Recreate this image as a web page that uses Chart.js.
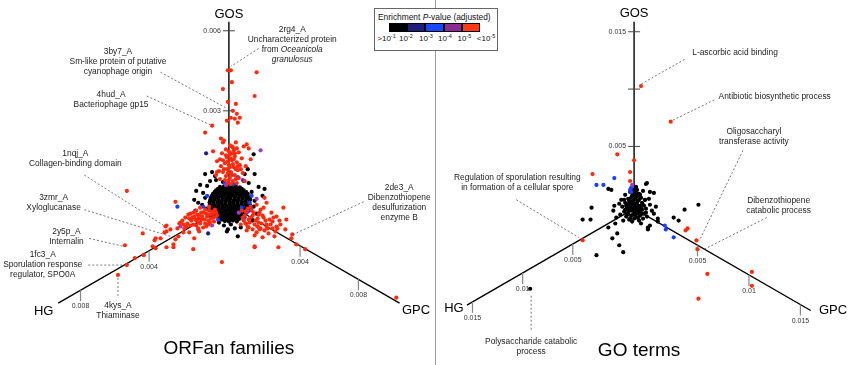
<!DOCTYPE html>
<html>
<head>
<meta charset="utf-8">
<script src="https://cdn.jsdelivr.net/npm/chart.js@4.4.1/dist/chart.umd.min.js"></script>
<style>
  html, body { margin: 0; padding: 0; background: #fff; }
  body { width: 851px; height: 365px; position: relative; overflow: hidden; font-family: "Liberation Sans", Arial, Helvetica, sans-serif; }
  canvas { position: absolute; top: 0; }
  #orfCanvas { left: 0; }
  #goCanvas { left: 435px; }
  #divider { position: absolute; left: 435px; top: 0; width: 1px; height: 365px; background: #9a9a9a; }
  #legend { position: absolute; left: 374px; top: 8px; width: 124px; height: 43px; box-sizing: border-box; border: 1px solid #666; background: #fff; }
  #legend .title { position: absolute; left: 3px; top: 3px; font-size: 8.4px; color: #111; white-space: nowrap; }
  #swatches { position: absolute; left: 14px; top: 14px; display: flex; }
  #swatches span { width: 18.2px; height: 9px; box-sizing: border-box; border: 1px solid #000; }
  #legLabels span { position: absolute; top: 25px; font-size: 8px; color: #111; transform: translateX(-50%); white-space: nowrap; line-height: 10px; }
  #legLabels sup { font-size: 5.5px; vertical-align: 3px; line-height: 0; }
</style>
</head>
<body>
<canvas id="orfCanvas" width="435" height="365"></canvas>
<canvas id="goCanvas" width="416" height="365"></canvas>
<div id="divider"></div>
<div id="legend">
  <div class="title">Enrichment <i>P</i>-value (adjusted)</div>
  <div id="swatches"></div>
  <div id="legLabels"></div>
</div>
<script>
// legend categories
const legendColors = ['#000000', '#1f1f7a', '#1747ff', '#8b2a94', '#ff3a14'];
const legendBase = ['>10', '10', '10', '10', '10', '<10'];
const legendExp = ['-1', '-2', '-3', '-4', '-5', '-5'];

// ORFan families: points in the projected plane (center = 0,0)
const orfRed = [
  [-0.1,13.6],[0.2,13.6],[2.8,13.4],[0.3,12.4],[-0.6,11.7],[2.6,11.0],[0.7,10.2],[-0.1,10.4],[0.4,9.5],[0.8,9.2],
  [0.2,8.8],[0.6,8.7],[1.1,8.8],[-0.2,8.5],[0.9,8.3],[-1.7,8.0],[-2.4,7.3],[-0.8,6.7],[-0.5,6.5],[0.7,6.3],
  [1.8,6.1],[2.0,5.7],[0.1,6.0],[0.4,5.8],[-0.6,6.3],
  [-0.3,5.6],[0.5,5.5],[1.0,5.3],[-0.7,5.2],[0.1,5.1],[0.6,4.9],[-0.2,4.8],[1.3,4.7],[-0.9,4.6],[0.3,4.5],
  [0.8,4.3],[-0.4,4.2],[0.0,4.0],[1.1,4.0],[-0.8,3.9],[0.5,3.8],[-0.2,3.6],[0.9,3.5],[0.2,3.3],[-0.6,3.3],
  [1.4,3.2],[0.6,3.0],[-0.3,2.9],[0.1,2.7],[1.0,2.7],[-0.9,2.6],[0.4,2.4],[-0.1,2.2],[0.8,2.2],[1.6,2.4],
  [-1.3,3.0],[1.7,3.9],[-1.2,4.4],[2.2,4.6],[-1.6,5.4],[1.5,5.9],[0.3,5.9],[-1.2,3.3],[0.2,4.7],[0.7,3.6],
  [0.0,5.4],[0.3,5.2],[-0.1,4.4],[0.4,4.1],[0.1,3.8],[-0.5,3.6],[0.3,3.0],[0.7,2.6],[-0.4,2.5],[0.2,2.1],
  [-0.6,4.5],[0.6,5.2],[-0.3,5.0],[0.9,3.9],[0.5,4.6],[-0.1,3.2],[0.0,2.5],[1.2,3.6],[-1.0,3.4],[0.8,5.7],
  [-10.3,1.4],[-5.4,0.3],[-6.4,-2.2],[-8.7,-2.9],[-10.5,-4.1],[-7.4,-3.4],[-6.5,-2.8],[-5.9,-2.5],[-4.6,-2.8],[-5.4,-3.5],
  [-5.6,-4.3],[-6.3,-4.3],[-7.7,-4.2],[-8.6,-5.1],[-9.5,-5.4],[-10.3,-6.1],[-11.2,-7.1],[-3.5,-3.4],[-4.0,-2.8],[-2.9,-1.8],
  [-4.4,-1.3],[-4.1,-1.0],[-6.9,-3.4],[-5.1,-3.2],[-6.3,-2.1],[-7.5,-3.6],[-6.3,-2.7],[-4.9,-1.8],[-5.6,-4.0],[-3.6,-4.5],
  [-7.4,-4.4],
  [-3.8,-1.6],[-3.5,-1.2],[-3.2,-1.7],[-3.0,-1.1],[-2.8,-1.5],[-2.6,-0.8],[-2.4,-1.9],[-2.2,-1.2],[-2.0,-0.6],[-1.8,-1.4],
  [-1.6,-0.9],[-1.4,-0.5],[-3.3,-0.6],[-2.9,-0.3],[-3.6,-2.0],[-4.2,-1.9],[-4.5,-2.4],[-2.6,-2.3],[-2.1,-2.0],[-1.5,-1.7],
  [-3.9,-0.9],[-4.7,-1.6],[-5.0,-1.9],[-3.1,-2.4],[-2.0,-0.2],[-1.2,-1.1],
  [-3.7,-1.3],[-3.4,-1.5],[-3.1,-1.4],[-2.7,-1.2],[-2.5,-1.5],[-2.3,-0.9],[-2.1,-1.6],[-1.9,-1.0],[-1.7,-0.7],[-2.9,-1.9],
  [-3.3,-2.1],[-3.9,-2.1],[-4.3,-2.2],[-2.4,-0.5],[-2.8,-0.8],[-3.2,-1.0],[-3.6,-0.8],[-4.0,-1.4],[-1.9,-1.8],[-2.3,-2.2],
  [-1.5,-1.3],[-1.3,-0.8],[-4.6,-2.0],[-3.0,-2.7],[-5.2,-2.4],
  [5.5,-0.3],[5.8,-1.5],[4.4,-1.7],[3.8,-2.2],[4.6,-3.2],[5.7,-2.5],[5.0,-4.3],[2.6,-4.3],[3.1,-2.5],[1.9,-2.2],
  [6.8,-4.0],[7.7,-4.5],[6.3,-3.4],[-0.7,-5.8],[16.9,-9.4],[6.4,-3.0],[4.8,-1.2],[4.3,-0.8],[3.8,0.2],[3.6,0.7],
  [4.9,-2.4],[2.6,-4.2],
  [1.3,-0.6],[1.6,-1.1],[1.9,-0.4],[2.2,-1.3],[2.5,-0.8],[2.7,-1.6],[3.0,-1.0],[3.3,-1.9],[3.5,-1.3],[3.8,-2.0],
  [2.1,-1.8],[1.5,-1.6],[2.9,-2.2],[3.2,-0.5],[4.1,-1.5],[3.6,-2.6],[4.4,-2.4],[2.4,-2.5],[1.8,-2.6],[4.0,-2.9],
  [2.6,-3.1],[3.4,-3.3],[5.2,-2.0],[4.7,-2.7],[1.2,-2.0],[2.8,0.0],
  [1.4,-1.3],[1.7,-0.7],[2.0,-1.5],[2.3,-0.6],[2.4,-1.1],[2.6,-2.0],[2.9,-1.4],[3.1,-0.8],[3.2,-2.4],[3.4,-1.1],
  [3.7,-1.6],[3.9,-2.4],[4.2,-2.0],[4.5,-1.3],[2.0,-2.3],[1.7,-1.9],[2.8,-2.8],[3.0,-1.8],[2.2,-0.2],[4.8,-2.2],
  [5.1,-1.6],[3.5,-0.3]
];
const orfPurple = [[3.2,5.5],[2.8,0.6],[1.0,-0.8],[-4.9,-2.2],[-1.7,-2.1],[-3.1,-2.5],[-0.3,2.0],[1.8,-0.7]];
const orfBlue = [
  [-5.2,-0.2],[0.9,2.8],[1.4,2.5],[-3.4,-0.6],[-2.6,-0.2],[1.3,-0.3],[2.1,0.2],[1.9,-0.7],[-0.4,2.2],[-2.2,0.9],
  [2.3,0.9],[-1.1,-1.5],[1.6,-1.3],[-2.0,-0.5],[0.5,2.1],[2.2,-0.4]
];
const orfNavy = [[-2.3,5.2],[-2.1,-2.9],[0.2,3.2],[-1.6,-1.2]];
const orfBlack = [
  [-0.9,1.8],[-0.5,1.85],[-0.1,1.75],[0.3,1.8],[0.7,1.9],[1.1,1.75],
  [-1.3,1.45],[-0.9,1.4],[-0.5,1.5],[-0.1,1.45],[0.3,1.4],[0.7,1.5],[1.1,1.4],[1.5,1.45],
  [-1.6,1.1],[-1.2,1.15],[-0.8,1.05],[-0.4,1.1],[0.0,1.15],[0.4,1.05],[0.8,1.1],[1.2,1.15],[1.6,1.05],[1.9,1.1],
  [-1.8,0.75],[-1.4,0.7],[-1.0,0.8],[-0.6,0.75],[-0.2,0.7],[0.2,0.8],[0.6,0.75],[1.0,0.7],[1.4,0.8],[1.8,0.75],[2.1,0.7],
  [-1.9,0.4],[-1.5,0.45],[-1.1,0.35],[-0.7,0.4],[-0.3,0.45],[0.1,0.35],[0.5,0.4],[0.9,0.45],[1.3,0.35],[1.7,0.4],[2.1,0.45],
  [-1.9,0.05],[-1.5,0.0],[-1.1,0.1],[-0.7,0.05],[-0.3,0.0],[0.1,0.1],[0.5,0.05],[0.9,0.0],[1.3,0.1],[1.7,0.05],[2.1,0.0],
  [-1.8,-0.3],[-1.4,-0.25],[-1.0,-0.35],[-0.6,-0.3],[-0.2,-0.25],[0.2,-0.35],[0.6,-0.3],[1.0,-0.25],[1.4,-0.35],[1.8,-0.3],[2.1,-0.25],
  [-1.6,-0.65],[-1.2,-0.6],[-0.8,-0.7],[-0.4,-0.65],[0.0,-0.6],[0.4,-0.7],[0.8,-0.65],[1.2,-0.6],[1.6,-0.7],[1.9,-0.65],
  [-1.3,-1.0],[-0.9,-0.95],[-0.5,-1.05],[-0.1,-1.0],[0.3,-0.95],[0.7,-1.05],[1.1,-1.0],[1.5,-0.95],
  [-0.9,-1.35],[-0.5,-1.3],[-0.1,-1.4],[0.3,-1.35],[0.7,-1.3],[1.1,-1.4],
  [-0.4,-1.65],[0.0,-1.7],[0.4,-1.6],[0.8,-1.7],
  [-1.1,1.62],[-0.7,1.6],[-0.3,1.65],[0.1,1.6],[0.5,1.64],[0.9,1.6],[1.3,1.62],
  [-1.45,1.27],[-1.05,1.3],[-0.65,1.25],[-0.25,1.28],[0.15,1.26],[0.55,1.3],[0.95,1.25],[1.35,1.28],[1.75,1.27],
  [-1.7,0.92],[-1.3,0.95],[-0.9,0.9],[-0.5,0.93],[-0.1,0.91],[0.3,0.95],[0.7,0.9],[1.1,0.93],[1.5,0.92],[1.9,0.9],
  [-1.85,0.57],[-1.45,0.6],[-1.05,0.55],[-0.65,0.58],[-0.25,0.56],[0.15,0.6],[0.55,0.55],[0.95,0.58],[1.35,0.57],[1.75,0.6],[2.15,0.56],
  [-1.95,0.22],[-1.55,0.25],[-1.15,0.2],[-0.75,0.23],[-0.35,0.21],[0.05,0.25],[0.45,0.2],[0.85,0.23],[1.25,0.22],[1.65,0.25],[2.05,0.2],
  [-1.85,-0.12],[-1.45,-0.1],[-1.05,-0.15],[-0.65,-0.12],[-0.25,-0.14],[0.15,-0.1],[0.55,-0.15],[0.95,-0.12],[1.35,-0.13],[1.75,-0.1],[2.15,-0.14],
  [-1.7,-0.47],[-1.3,-0.45],[-0.9,-0.5],[-0.5,-0.47],[-0.1,-0.48],[0.3,-0.45],[0.7,-0.5],[1.1,-0.47],[1.5,-0.46],[1.9,-0.48],
  [-1.45,-0.82],[-1.05,-0.8],[-0.65,-0.85],[-0.25,-0.82],[0.15,-0.83],[0.55,-0.8],[0.95,-0.85],[1.35,-0.82],[1.75,-0.8],
  [-1.1,-1.17],[-0.7,-1.15],[-0.3,-1.2],[0.1,-1.17],[0.5,-1.18],[0.9,-1.15],[1.3,-1.2],
  [-0.7,-1.5],[-0.3,-1.52],[0.1,-1.5],[0.5,-1.48],[0.9,-1.52],
  [2.5,5.1],[2.6,3.1],[-2.9,2.0],[-3.5,0.5],[-3.1,0.2],[2.3,1.3],[2.6,0.4],[-2.2,1.9],[-2.6,1.2],[-2.4,0.7],
  [-2.7,0.0],[-2.3,-0.4],[2.5,-0.2],[2.8,-0.9],[2.4,-1.6],[1.7,-1.9],[0.2,-2.0],[-0.5,-2.1],[1.2,-2.3],[-1.0,-1.8],
  [0.6,-2.4],[-1.9,2.4],[-1.3,2.5],[1.5,2.4],[2.0,2.2],[-0.6,2.3],[3.0,1.8],[3.4,0.9],[-2.0,-1.1],[0.9,-3.2],
  [-0.2,-2.7],[2.9,-2.2],[-1.4,2.9],[1.9,3.6],[-3.3,1.4],[3.6,1.6],[-2.4,3.1],[-1.7,3.3],[1.6,3.1],[-0.1,-2.5]
];

// GO terms
const goRed = [
  [0.7,12.4],[3.7,8.8],[-1.7,5.5],[0.0,4.9],[-4.2,3.5],[-0.4,3.7],[-0.4,2.8],[-5.2,-3.2],[5.2,-2.2],[5.4,-2.0],
  [6.3,-3.2],[6.4,-4.1],[7.4,-6.6],[6.5,-9.1],[11.9,-6.4],[11.9,-7.8]
];
const goPurple = [[-0.2,2.4]];
const goBlue = [[-2.0,3.1],[-3.8,2.4],[-3.1,2.4],[-0.4,1.9],[-0.3,2.1],[-0.3,1.7],[3.1,-1.7],[3.2,-2.1],[4.0,-2.9]];
const goBlack = [
  [-2.6,2.0],[1.2,2.5],[1.6,1.7],[2.0,1.6],[-4.3,0.1],[-5.2,-1.1],[-4.4,-1.1],[-2.1,-0.2],[-2.6,-1.9],[-1.9,-1.5],
  [-2.2,-3.0],[-1.5,-3.7],[-1.1,-4.4],[-3.8,-4.7],[1.4,-2.1],[1.6,-1.7],[2.4,-1.3],[4.0,-0.9],[4.5,-1.2],[5.1,-0.1],
  [6.5,0.4],[-10.5,-8.1],[1.3,2.6],[1.1,0.9],[2.0,-0.5],[2.4,-1.0],[-1.7,-2.5],[1.4,-1.9],[-2.3,1.9],
  [-1.2,0.2],[-1.0,-0.3],[-0.9,0.6],[-0.8,-0.8],[-0.7,0.1],[-0.6,1.0],[-0.6,-0.5],[-0.5,0.4],[-0.4,-1.0],[-0.3,-0.2],
  [-0.3,0.7],[-0.2,1.3],[-0.1,0.2],[-0.1,-0.6],[0.0,0.9],[0.0,1.6],[0.1,-0.2],[0.1,0.5],[0.2,-0.9],[0.2,1.2],
  [0.3,0.1],[0.3,1.9],[0.4,-0.4],[0.4,0.8],[0.5,1.5],[0.5,-1.2],[0.6,0.3],[0.6,-0.7],[0.7,1.1],[0.8,-0.1],
  [0.8,0.6],[0.9,-1.0],[1.0,0.3],[1.0,-0.5],[1.2,0.0],[1.3,-0.8],[-1.4,-0.6],[-1.5,0.5],[-0.9,1.4],[0.2,2.2],
  [-0.2,-1.3],[0.7,-1.5],[1.6,0.4],[-1.8,-0.9],[-0.4,1.7],[0.1,1.0],[-0.2,0.0],[0.3,-0.5],[0.0,-0.3],[-0.5,-0.1],
  [0.5,0.0],[0.2,0.4],[-0.1,1.9],[-1.1,-1.2],[1.8,-0.2],[-2.0,0.3],[1.5,1.0],[2.2,0.2],[-1.3,0.9],[0.9,1.8],
  [-0.8,0.3],[-0.6,-0.2],[-0.4,0.2],[-0.2,0.5],[0.0,0.2],[0.2,-0.1],[0.4,0.3],[0.6,-0.3],[-0.5,0.8],[-0.3,1.1],
  [-0.1,0.7],[0.1,1.3],[0.3,0.6],[0.5,0.9],[0.7,0.0],[0.9,0.4],[-0.7,-0.6],[-0.3,-0.7],[0.1,-0.6],[0.4,-0.9],
  [0.8,-0.5],[-0.9,-0.1],[0.2,1.6],[0.4,1.3],[-0.2,1.6],[0.1,1.8],[0.0,-1.0],[-0.5,-1.1],[1.1,0.9],[1.2,-0.4],
  [-1.0,0.9],[0.6,1.4],[-0.6,0.5]
];

// axis tick values
const orfGosTicks = [0.003, 0.006];
const orfHgTicks = [0.004, 0.008];
const orfGpcTicks = [0.004, 0.008];
const goGosTicks = [0.005, 0.01, 0.015];
const goGosTickLabels = ['0.005', '', '0.015'];
const goHgTicks = [0.005, 0.01, 0.015];
const goGpcTicks = [0.005, 0.01, 0.015];

// annotation texts (*...* = italic)
const orfNotes = [
  ['2rg4_A', 'Uncharacterized protein', 'from *Oceanicola*', '*granulosus*'],
  ['3by7_A', 'Sm-like protein of putative', 'cyanophage origin'],
  ['4hud_A', 'Bacteriophage gp15'],
  ['1nqj_A', 'Collagen-binding domain'],
  ['3zmr_A', 'Xyloglucanase'],
  ['2y5p_A', 'Internalin'],
  ['1fc3_A', 'Sporulation response', 'regulator, SPO0A'],
  ['4kys_A', 'Thiaminase'],
  ['2de3_A', 'Dibenzothiopene', 'desulfurization', 'enzyme B']
];
const goNotes = [
  ['L-ascorbic acid binding'],
  ['Antibiotic biosynthetic process'],
  ['Oligosaccharyl', 'transferase activity'],
  ['Dibenzothiopene', 'catabolic process'],
  ['Regulation of sporulation resulting', 'in formation of a cellular spore'],
  ['Polysaccharide catabolic', 'process']
];

const FONT = '"Liberation Sans", Arial, Helvetica, sans-serif';

// ---- legend ----
const sw = document.getElementById('swatches');
legendColors.forEach(c => {
  const s = document.createElement('span');
  s.style.background = c;
  sw.appendChild(s);
});
const legendLabelX = [11.5, 31, 51, 70, 89.5, 111];
const ll = document.getElementById('legLabels');
legendBase.forEach((b, i) => {
  const s = document.createElement('span');
  s.style.left = legendLabelX[i] + 'px';
  s.innerHTML = b.replace('<', '&lt;').replace('>', '&gt;') + '<sup>' + legendExp[i] + '</sup>';
  ll.appendChild(s);
});

// ---- panel layouts ----
const orfLayout = {
  xRange: [-22.9, 20.6], yRange: [-16.0, 20.5],
  title: 'ORFan families', titlePos: [0, -15.1],
  axes: [
    { name: 'GOS', angle: 90, length: 18.5, offset: 1.4, perUnit: 2700, ticks: orfGosTicks, labelPos: [0, 19.3] },
    { name: 'HG', angle: 210, length: 19.9, offset: 1.3, perUnit: 2000, ticks: orfHgTicks, labelPos: [-18.7, -10.8] },
    { name: 'GPC', angle: 330, length: 19.9, offset: 1.5, perUnit: 1700, ticks: orfGpcTicks, labelPos: [18.9, -10.7] }
  ],
  notes: [
    { text: orfNotes[0], at: [6.4, 17.7], from: [3.0, 15.8], to: [0.2, 14.0] },
    { text: orfNotes[1], at: [-11.2, 15.5], from: [-6.9, 13.4], to: [-0.3, 9.8] },
    { text: orfNotes[2], at: [-11.9, 11.1], from: [-8.3, 11.0], to: [-1.9, 8.1] },
    { text: orfNotes[3], at: [-15.5, 5.2], from: [-14.6, 3.0], to: [-6.4, -2.2] },
    { text: orfNotes[4], at: [-17.7, 0.7], from: [-14.6, -0.5], to: [-5.9, -3.2] },
    { text: orfNotes[5], at: [-16.4, -2.7], from: [-14.1, -3.4], to: [-10.7, -4.2] },
    { text: orfNotes[6], at: [-18.8, -5.1], from: [-14.2, -6.1], to: [-10.5, -6.1] },
    { text: orfNotes[7], at: [-11.2, -10.2], from: [-11.2, -7.4], to: [-11.2, -9.2] },
    { text: orfNotes[8], at: [17.2, 1.7], from: [13.6, 0.3], to: [6.3, -3.1] }
  ]
};

const goLayout = {
  xRange: [-19.9, 21.7], yRange: [-15.6, 20.9],
  title: 'GO terms', titlePos: [0.5, -14.9],
  axes: [
    { name: 'GOS', angle: 90, length: 18.9, offset: 0.5, perUnit: 1160, ticks: goGosTicks, tickLabels: goGosTickLabels, labelPos: [0, 19.8] },
    { name: 'HG', angle: 210, length: 19.5, offset: 1.3, perUnit: 1170, ticks: goHgTicks, labelPos: [-18.2, -10.1] },
    { name: 'GPC', angle: 330, length: 20.6, offset: 1.4, perUnit: 1200, ticks: goGpcTicks, labelPos: [20.1, -10.3] }
  ],
  notes: [
    { text: goNotes[0], at: [10.2, 15.8], from: [5.1, 15.1], to: [0.7, 12.6] },
    { text: goNotes[1], at: [14.2, 11.3], from: [8.1, 11.0], to: [3.8, 8.9] },
    { text: goNotes[2], at: [12.1, 7.8], from: [11.0, 5.9], to: [6.7, -3.0] },
    { text: goNotes[3], at: [14.6, 0.8], from: [13.4, -0.9], to: [6.9, -4.2] },
    { text: goNotes[4], at: [-11.8, 3.1], from: [-11.9, 0.9], to: [-5.6, -2.9] },
    { text: goNotes[5], at: [-10.4, -13.5], from: [-10.4, -8.8], to: [-10.4, -12.4] }
  ]
};

function toPx(chart, p) {
  return [chart.scales.x.getPixelForValue(p[0]), chart.scales.y.getPixelForValue(p[1])];
}
function along(angle, d) {
  const a = angle * Math.PI / 180;
  return [d * Math.cos(a), d * Math.sin(a)];
}
function drawRich(ctx, line, cx, cy, size) {
  const parts = line.split('*');
  const fonts = parts.map((t, i) => (i % 2 ? 'italic ' : '') + size + 'px ' + FONT);
  let total = 0;
  parts.forEach((t, i) => { ctx.font = fonts[i]; total += ctx.measureText(t).width; });
  let x = cx - total / 2;
  ctx.textAlign = 'left';
  parts.forEach((t, i) => { ctx.font = fonts[i]; ctx.fillText(t, x, cy); x += ctx.measureText(t).width; });
}

function starPlugin(layout) {
  return {
    id: 'star',
    beforeDatasetsDraw(chart) {
      const ctx = chart.ctx;
      ctx.save();
      const c = toPx(chart, [0, 0]);
      layout.axes.forEach(ax => {
        const e = toPx(chart, along(ax.angle, ax.length));
        ctx.strokeStyle = '#000';
        ctx.lineWidth = 1.4;
        ctx.beginPath(); ctx.moveTo(c[0], c[1]); ctx.lineTo(e[0], e[1]); ctx.stroke();
        ax.ticks.forEach((v, i) => {
          const label = ax.tickLabels ? ax.tickLabels[i] : String(v);
          const t = toPx(chart, along(ax.angle, ax.offset + v * ax.perUnit));
          ctx.font = '7px ' + FONT;
          ctx.fillStyle = '#333';
          ctx.textBaseline = 'middle';
          if (ax.angle === 90) {
            ctx.strokeStyle = '#444'; ctx.lineWidth = 1;
            ctx.beginPath(); ctx.moveTo(t[0] - 6, t[1]); ctx.lineTo(t[0] + 6, t[1]); ctx.stroke();
            ctx.textAlign = 'right';
            ctx.fillText(label, t[0] - 8, t[1]);
          } else {
            ctx.strokeStyle = '#888'; ctx.lineWidth = 1.2;
            ctx.beginPath(); ctx.moveTo(t[0], t[1]); ctx.lineTo(t[0], t[1] + 11); ctx.stroke();
            ctx.textAlign = 'center';
            ctx.fillText(label, t[0], t[1] + 16);
          }
        });
      });
      ctx.restore();
    },
    afterDatasetsDraw(chart) {
      const ctx = chart.ctx;
      ctx.save();
      ctx.fillStyle = '#000';
      ctx.textBaseline = 'middle';
      ctx.textAlign = 'center';
      ctx.font = '13px ' + FONT;
      layout.axes.forEach(ax => {
        const p = toPx(chart, ax.labelPos);
        ctx.fillText(ax.name, p[0], p[1]);
      });
      layout.notes.forEach(n => {
        const a = toPx(chart, n.from), b = toPx(chart, n.to);
        ctx.strokeStyle = '#555';
        ctx.lineWidth = 0.8;
        ctx.setLineDash([2, 2]);
        ctx.beginPath(); ctx.moveTo(a[0], a[1]); ctx.lineTo(b[0], b[1]); ctx.stroke();
        ctx.setLineDash([]);
        const p = toPx(chart, n.at);
        ctx.fillStyle = '#222';
        ctx.textBaseline = 'middle';
        n.text.forEach((line, i) => drawRich(ctx, line, p[0], p[1] + i * 10, 8.4));
      });
      const tp = toPx(chart, layout.titlePos);
      ctx.fillStyle = '#000';
      ctx.textAlign = 'center';
      ctx.textBaseline = 'alphabetic';
      ctx.font = '19px ' + FONT;
      ctx.fillText(layout.title, tp[0], tp[1]);
      ctx.restore();
    }
  };
}

function toXY(arr) {
  return arr.map(p => ({ x: p[0], y: p[1] }));
}

function makePanel(canvasId, layout, series) {
  new Chart(document.getElementById(canvasId), {
    type: 'scatter',
    data: {
      // first dataset is drawn on top
      datasets: series.map(s => ({
        data: toXY(s.data),
        backgroundColor: s.color,
        pointRadius: 2.1,
        pointHoverRadius: 2.1,
        borderWidth: 0
      }))
    },
    options: {
      responsive: false,
      animation: false,
      events: [],
      layout: { padding: 0 },
      scales: {
        x: { type: 'linear', min: layout.xRange[0], max: layout.xRange[1], display: false },
        y: { type: 'linear', min: layout.yRange[0], max: layout.yRange[1], display: false }
      },
      plugins: { legend: { display: false }, tooltip: { enabled: false } }
    },
    plugins: [starPlugin(layout)]
  });
}

makePanel('orfCanvas', orfLayout, [
  { data: orfRed, color: '#ff2a0d' },
  { data: orfPurple, color: '#9a3ccc' },
  { data: orfBlue, color: '#1a3dff' },
  { data: orfNavy, color: '#1f1f8a' },
  { data: orfBlack, color: '#000000' }
]);

makePanel('goCanvas', goLayout, [
  { data: goRed, color: '#ff2a0d' },
  { data: goPurple, color: '#9a3ccc' },
  { data: goBlue, color: '#1a3dff' },
  { data: goBlack, color: '#000000' }
]);
</script>
</body>
</html>
